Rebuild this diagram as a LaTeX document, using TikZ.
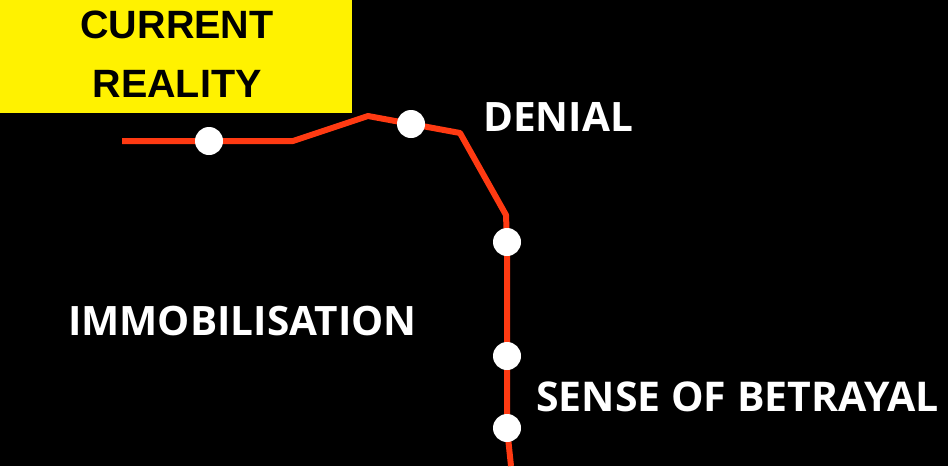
\documentclass[tikz,border=0pt]{standalone}
\usepackage{fontspec}
\setmainfont{Open Sans}
\newfontfamily\arialfont{Liberation Sans}
\definecolor{linered}{HTML}{FF3A12}
\definecolor{boxyellow}{HTML}{FFF200}
\begin{document}
\begin{tikzpicture}[x=1pt,y=-1pt,
  stop/.style={circle,fill=white,draw=none,minimum size=28pt,inner sep=0pt},
  label/.style={text=white,font=\fontsize{40.5}{43}\selectfont\bfseries,inner sep=0pt,anchor=base west},
  boxtext/.style={anchor=base,inner sep=0pt,font=\arialfont\fontsize{39.5}{42}\selectfont\bfseries},
  track/.style={draw=linered,line width=6pt,line join=round}]
\fill[black] (0,0) rectangle (948,466);
\useasboundingbox (0,0) rectangle (948,466);
\node[fill=boxyellow,minimum width=352pt,minimum height=113pt,anchor=north west,inner sep=0pt] (box) at (0,0) {};
\node[boxtext] (cur) at (177,38) {CURRENT};
\node[boxtext] (real) at (177,97) {REALITY};
\coordinate (s) at (122,141);
\coordinate (b1) at (293,141);
\coordinate (b2) at (368,116);
\coordinate (b3) at (460,133);
\coordinate (b4) at (506,215);
\coordinate (e) at (511,466);
\coordinate (p1) at (209,141);
\coordinate (p2) at (411,124);
\coordinate (p3) at (507,242);
\coordinate (p4) at (507,356);
\coordinate (p5) at (507,428);
\draw[track] (s) -- (b1) -- (b2) -- (b3) -- (b4) -- (p3) -- (p4) -- (p5) -- (e);
\node[stop] (d1) at (p1) {};
\node[stop] (d2) at (p2) {};
\node[stop] (d3) at (p3) {};
\node[stop] (d4) at (p4) {};
\node[stop] (d5) at (p5) {};
\node[label] (denial) at (483,131) {DENIAL};
\node[label] (immo) at (68,335) {IMMOBILISATION};
\node[label,font=\fontsize{41}{43}\selectfont\bfseries] (betr) at (536,411) {SENSE OF BETRAYAL};
\end{tikzpicture}
\end{document}
